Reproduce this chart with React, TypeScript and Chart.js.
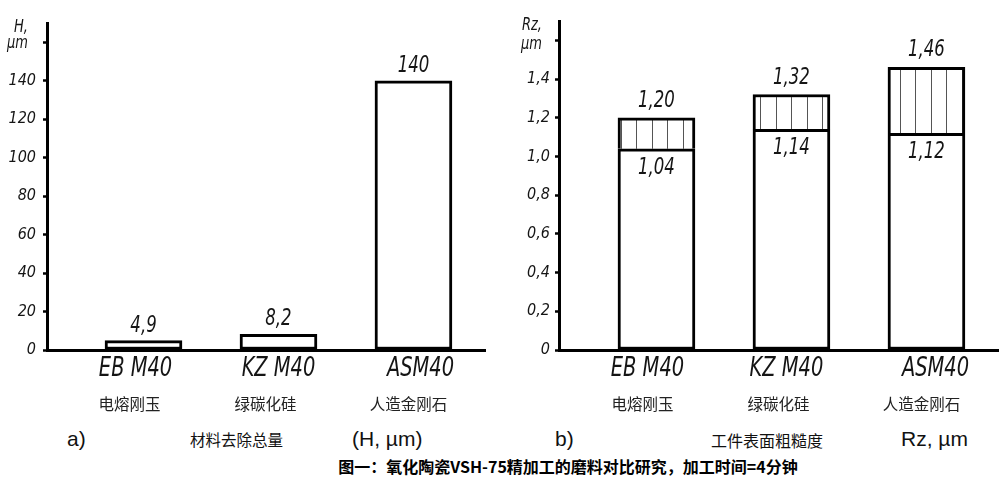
import React, { useEffect, useRef } from 'react';
import { Chart, registerables } from 'chart.js';

Chart.register(...registerables);

// ---------- data ----------
const categories = ['EB M40', 'KZ M40', 'ASM40'];
const categoriesZh = ['电熔刚玉', '绿碳化硅', '人造金刚石'];
const removalH = [4.9, 8.2, 140];
const hTicks = [0, 20, 40, 60, 80, 100, 120, 140, 160];
const rzBase = [1.04, 1.14, 1.12];
const rzTotal = [1.2, 1.32, 1.46];
const rzTicks = [0, 0.2, 0.4, 0.6, 0.8, 1.0, 1.2, 1.4, 1.6];

const NARROW = '"DejaVu Sans Condensed", "DejaVu Sans", sans-serif';
const CJK = '"Noto Sans CJK SC", sans-serif';
const ARIAL = '"Liberation Sans", Arial, sans-serif';
const INK = '#151515';

function fmt(v: number, d: number | null): string {
  if (v === 0) return '0';
  if (d === null) return String(v).replace('.', ',');
  return v.toFixed(d).replace('.', ',');
}

function drawScaled(ctx: CanvasRenderingContext2D, text: string, x: number, y: number, sx: number) {
  ctx.save();
  ctx.translate(x, y);
  ctx.scale(sx, 1);
  ctx.fillText(text, 0, 0);
  ctx.restore();
}

const annotPlugin = {
  id: 'annot',
  afterDraw(chart: any, _args: any, opts: any) {
    const ctx = chart.ctx as CanvasRenderingContext2D;
    const xs = chart.scales.x;
    const ys = chart.scales.y;
    ctx.save();
    ctx.fillStyle = INK;
    // unit label
    ctx.font = `italic 17px ${NARROW}`;
    ctx.textAlign = 'right';
    ctx.textBaseline = 'alphabetic';
    (opts.unit || []).forEach((t: string, i: number) => drawScaled(ctx, t, opts.unitX, opts.unitY[i], 0.85));
    // category names (x axis labels)
    ctx.textAlign = 'center';
    ctx.textBaseline = 'middle';
    ctx.font = `italic 27px ${NARROW}`;
    categories.forEach((t, i) => drawScaled(ctx, t, xs.getPixelForValue(i + 1) + opts.catOffset[i], 369, 0.8));
    // Chinese category names
    ctx.font = `15.5px ${CJK}`;
    ctx.fillStyle = '#222';
    categoriesZh.forEach((t, i) => ctx.fillText(t, xs.getPixelForValue(i + 1) + opts.zhOffset[i], 404));
    // value labels
    ctx.fillStyle = INK;
    ctx.font = `italic 23px ${NARROW}`;
    ctx.textBaseline = 'alphabetic';
    (opts.above || []).forEach((v: number, i: number) => {
      drawScaled(ctx, fmt(v, opts.decimals), xs.getPixelForValue(i + 1), ys.getPixelForValue(v) - opts.aboveGap, 0.8);
    });
    (opts.inside || []).forEach((v: number, i: number) => {
      drawScaled(ctx, fmt(v, opts.decimals), xs.getPixelForValue(i + 1), ys.getPixelForValue(v) + 25, 0.8);
    });
    ctx.restore();
  },
};

function makeHatch(): CanvasPattern | string {
  const c = document.createElement('canvas');
  c.width = 31;
  c.height = 8;
  const g = c.getContext('2d');
  if (!g) return '#fff';
  g.fillStyle = '#fff';
  g.fillRect(0, 0, 31, 8);
  g.fillStyle = '#555';
  g.fillRect(12, 0, 1, 8);
  g.fillRect(28, 0, 1, 8);
  return g.createPattern(c, 'repeat') || '#fff';
}

function buildConfig(p: any): any {
  return {
    type: 'bar',
    data: { datasets: p.datasets },
    plugins: [annotPlugin],
    options: {
      animation: false,
      responsive: false,
      devicePixelRatio: 1,
      events: [],
      layout: { padding: { left: 0, top: p.padTop, right: p.padRight, bottom: 0 } },
      plugins: {
        legend: { display: false },
        tooltip: { enabled: false },
        annot: p.annot,
      },
      scales: {
        x: {
          type: 'linear',
          min: p.xMin,
          max: p.xMax,
          offset: false,
          afterBuildTicks: (s: any) => {
            s.ticks = categories.map((_, i) => ({ value: i + 1 }));
          },
          afterFit: (s: any) => {
            s.height = 70;
          },
          grid: { display: false },
          border: { display: true, color: '#000', width: 3 },
          ticks: { display: false },
        },
        y: {
          type: 'linear',
          min: 0,
          max: p.yMax,
          afterBuildTicks: (s: any) => {
            s.ticks = p.yTicks.map((v: number) => ({ value: v }));
          },
          afterFit: (s: any) => {
            s.width = p.yWidth;
          },
          grid: {
            display: true,
            drawOnChartArea: false,
            drawTicks: true,
            tickLength: 4,
            tickWidth: 2.5,
            tickColor: '#000',
            color: '#000',
          },
          border: { display: true, color: '#000', width: 3 },
          ticks: {
            padding: p.yPad,
            color: INK,
            font: { family: NARROW, size: 16, style: 'italic' },
            callback: (v: number) => (v === p.yTicks[p.yTicks.length - 1] ? '' : fmt(v, p.yDecimals)),
          },
        },
      },
    },
  };
}

const txtBase: React.CSSProperties = { position: 'absolute', lineHeight: 1, whiteSpace: 'nowrap', color: '#111' };

export default function App() {
  const leftRef = useRef<HTMLCanvasElement>(null);
  const rightRef = useRef<HTMLCanvasElement>(null);

  useEffect(() => {
    if (!leftRef.current || !rightRef.current) return;
    const hatch = makeHatch();
    const left = new Chart(
      leftRef.current,
      buildConfig({
        datasets: [
          {
            data: removalH.map((v, i) => ({ x: i + 1, y: v })),
            backgroundColor: '#fff',
            borderColor: '#000',
            borderWidth: 3,
            borderSkipped: false,
            barThickness: 77,
          },
        ],
        padTop: 23,
        padRight: 15,
        xMin: 0.285,
        xMax: 3.53,
        yMax: 170,
        yTicks: hTicks,
        yDecimals: 0,
        yWidth: 47,
        yPad: 7,
        annot: {
          unit: ['H,', 'µm'],
          unitX: 28,
          unitY: [32, 48],
          catOffset: [-8, 0, 7],
          zhOffset: [-14, -13, -5],
          above: removalH,
          aboveGap: 9,
          decimals: null,
        },
      })
    );
    const right = new Chart(
      rightRef.current,
      buildConfig({
        datasets: [
          {
            data: rzBase.map((v, i) => ({ x: i + 1, y: v })),
            backgroundColor: '#fff',
            borderColor: '#000',
            borderWidth: 3,
            borderSkipped: false,
            barThickness: 77,
            grouped: false,
          },
          {
            data: rzBase.map((v, i) => ({ x: i + 1, y: [v, rzTotal[i]] })),
            backgroundColor: hatch,
            borderColor: '#000',
            borderWidth: 3,
            borderSkipped: 'bottom',
            barThickness: 77,
            grouped: false,
          },
        ],
        padTop: 21,
        padRight: 7,
        xMin: 0.278,
        xMax: 3.53,
        yMax: 1.7,
        yTicks: rzTicks,
        yDecimals: 1,
        yWidth: 59,
        yPad: 5,
        annot: {
          unit: ['Rz,', 'µm'],
          unitX: 42,
          unitY: [30, 49],
          catOffset: [-9, -5, 9],
          zhOffset: [-14, -13, -5],
          above: rzTotal,
          aboveGap: 11,
          inside: rzBase,
          decimals: 2,
        },
      })
    );
    return () => {
      left.destroy();
      right.destroy();
    };
  }, []);

  return (
    <div style={{ position: 'absolute', left: 0, top: 0, width: 1005, height: 483, background: '#fff', overflow: 'hidden' }}>
      <canvas ref={leftRef} width={500} height={420} style={{ position: 'absolute', left: 0, top: 0, width: 500, height: 420 }} />
      <canvas ref={rightRef} width={505} height={420} style={{ position: 'absolute', left: 500, top: 0, width: 505, height: 420 }} />
      <div style={{ ...txtBase, left: 67, top: 428, fontSize: 21, fontFamily: ARIAL }}>a)</div>
      <div style={{ ...txtBase, left: 190, top: 432, fontSize: 15.5, fontFamily: CJK }}>材料去除总量</div>
      <div style={{ ...txtBase, left: 352, top: 428, fontSize: 21, fontFamily: ARIAL }}>(H, µm)</div>
      <div style={{ ...txtBase, left: 555, top: 428, fontSize: 21, fontFamily: ARIAL }}>b)</div>
      <div style={{ ...txtBase, left: 711, top: 432, fontSize: 16, fontFamily: CJK }}>工件表面粗糙度</div>
      <div style={{ ...txtBase, left: 901, top: 428, fontSize: 21, fontFamily: ARIAL }}>Rz, µm</div>
      <div style={{ ...txtBase, left: 338, top: 458, width: 460, textAlign: 'center', fontSize: 16, fontWeight: 700, fontFamily: CJK, color: '#000' }}>
        图一：氧化陶瓷VSH-75精加工的磨料对比研究，加工时间=4分钟
      </div>
    </div>
  );
}
